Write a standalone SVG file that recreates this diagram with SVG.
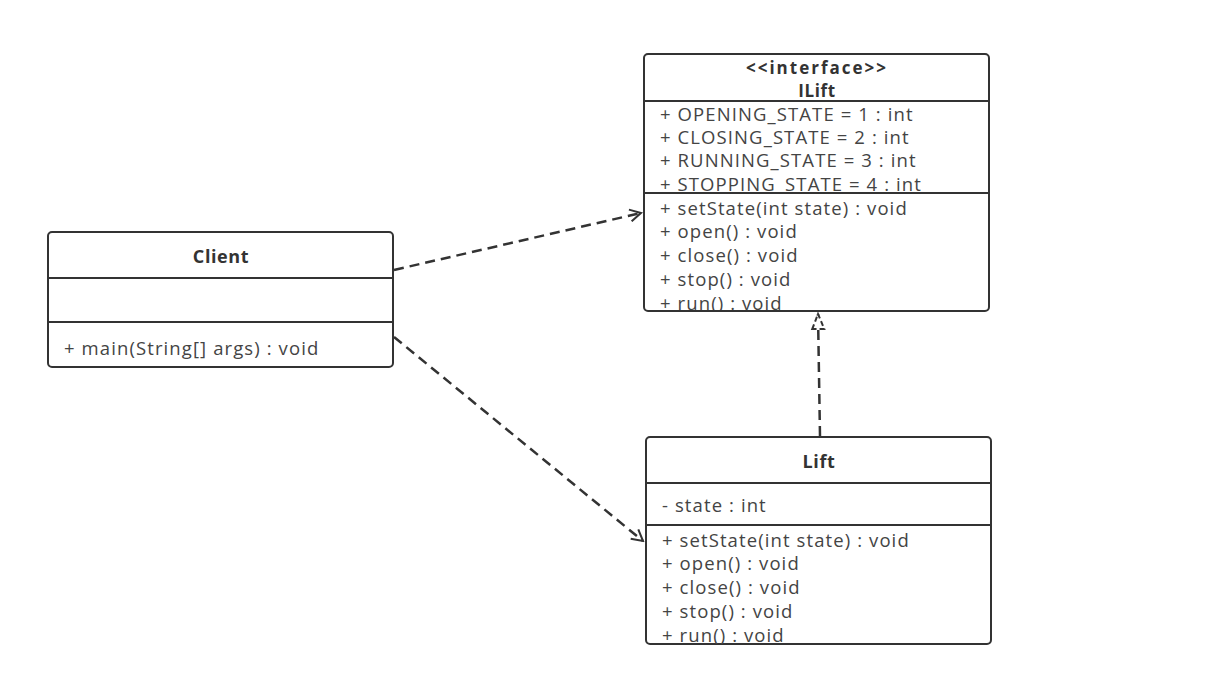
<svg xmlns="http://www.w3.org/2000/svg" width="1215" height="700" viewBox="0 0 1215 700">
  <style>
    .box { fill: #ffffff; stroke: #333333; stroke-width: 2; }
    .div { stroke: #333333; stroke-width: 2; }
    .title { font-family: "Open Sans", "Noto Sans", sans-serif; font-size: 18px; font-weight: bold; letter-spacing: 0.6px; fill: #333333; text-anchor: middle; }
    .head { font-size: 17px; }
    .stereo { letter-spacing: 2px; }
    .member { font-family: "Open Sans", "Noto Sans", sans-serif; font-size: 18.5px; letter-spacing: 1.1px; fill: #444444; }
    .dep { fill: none; stroke: #333333; stroke-width: 2.5; stroke-dasharray: 10 6; }
  </style>
  <defs>
    <marker id="open-arrow" viewBox="0 0 14 14" refX="12" refY="7" markerWidth="14" markerHeight="14" markerUnits="userSpaceOnUse" orient="auto">
      <path d="M1,1 L12,7 L1,13" fill="none" stroke="#333333" stroke-width="2"/>
    </marker>
    <marker id="realize" viewBox="0 0 20 20" refX="18" refY="10" markerWidth="20" markerHeight="20" markerUnits="userSpaceOnUse" orient="auto">
      <path d="M3,4 L18,10 L3,16 Z" fill="#ffffff" stroke="#333333" stroke-width="2" stroke-dasharray="5 3"/>
    </marker>
    <clipPath id="ilift-head"><rect x="644" y="55" width="345" height="46"/></clipPath>
    <clipPath id="ilift-attrs"><rect x="644" y="102" width="345" height="90"/></clipPath>
    <clipPath id="ilift-ops"><rect x="644" y="194" width="345" height="116"/></clipPath>
    <clipPath id="lift-ops"><rect x="646" y="526" width="345" height="118"/></clipPath>
  </defs>

  <g id="connectors">
    <line class="dep" x1="394" y1="270" x2="641" y2="213" marker-end="url(#open-arrow)"/>
    <line class="dep" x1="394" y1="337" x2="643" y2="541" marker-end="url(#open-arrow)"/>
    <line class="dep" x1="820" y1="436" x2="818" y2="314" marker-end="url(#realize)"/>
  </g>

  <g id="ILift">
    <rect class="box" x="644" y="54" width="345" height="257" rx="4"/>
    <g clip-path="url(#ilift-head)">
      <text class="title head stereo" x="817" y="74">&lt;&lt;interface&gt;&gt;</text>
      <text class="title head" x="817" y="97">ILift</text>
    </g>
    <line class="div" x1="644" y1="101" x2="989" y2="101"/>
    <g clip-path="url(#ilift-attrs)">
      <text class="member" x="660" y="121">+ OPENING_STATE = 1 : int</text>
      <text class="member" x="660" y="144">+ CLOSING_STATE = 2 : int</text>
      <text class="member" x="660" y="167">+ RUNNING_STATE = 3 : int</text>
      <text class="member" x="660" y="191">+ STOPPING_STATE = 4 : int</text>
    </g>
    <line class="div" x1="644" y1="193" x2="989" y2="193"/>
    <g clip-path="url(#ilift-ops)">
      <text class="member" x="660" y="215">+ setState(int state) : void</text>
      <text class="member" x="660" y="238">+ open() : void</text>
      <text class="member" x="660" y="262">+ close() : void</text>
      <text class="member" x="660" y="286">+ stop() : void</text>
      <text class="member" x="660" y="310">+ run() : void</text>
    </g>
  </g>

  <g id="Client">
    <rect class="box" x="48" y="232" width="345" height="135" rx="4"/>
    <text class="title" x="221" y="263">Client</text>
    <line class="div" x1="48" y1="278" x2="393" y2="278"/>
    <line class="div" x1="48" y1="322" x2="393" y2="322"/>
    <text class="member" x="64" y="355">+ main(String[] args) : void</text>
  </g>

  <g id="Lift">
    <rect class="box" x="646" y="437" width="345" height="207" rx="4"/>
    <text class="title" x="819" y="468">Lift</text>
    <line class="div" x1="646" y1="483" x2="991" y2="483"/>
    <text class="member" x="662" y="512">- state : int</text>
    <line class="div" x1="646" y1="525" x2="991" y2="525"/>
    <g clip-path="url(#lift-ops)">
      <text class="member" x="662" y="547">+ setState(int state) : void</text>
      <text class="member" x="662" y="570">+ open() : void</text>
      <text class="member" x="662" y="594">+ close() : void</text>
      <text class="member" x="662" y="618">+ stop() : void</text>
      <text class="member" x="662" y="642">+ run() : void</text>
    </g>
  </g>
</svg>
